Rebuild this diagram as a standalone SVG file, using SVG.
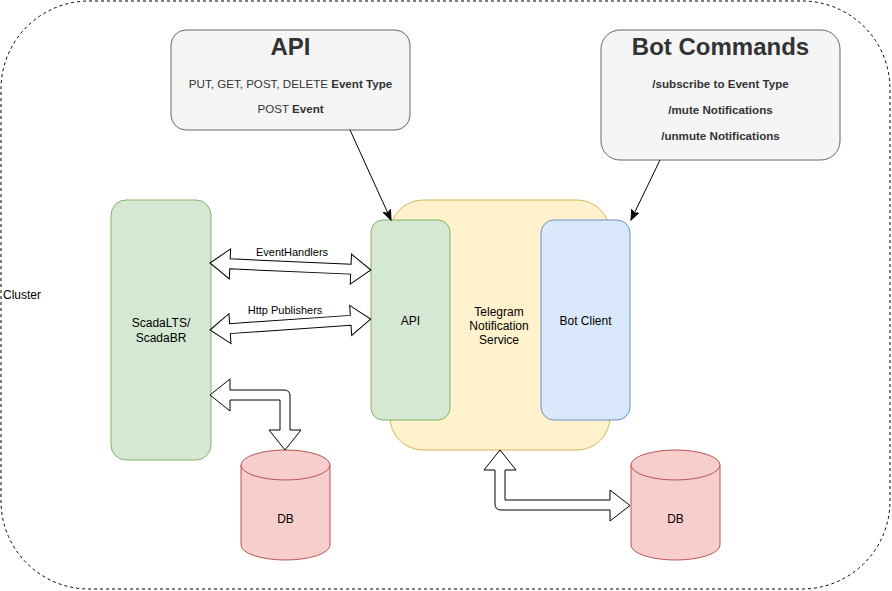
<svg xmlns="http://www.w3.org/2000/svg" width="892" height="591" viewBox="0 0 892 591">
<defs>
<style>
text{font-family:"Liberation Sans",Arial,Helvetica,sans-serif;font-size:12px;fill:#000;}
.c{text-anchor:middle;}
.g{fill:#333333;font-size:11.6px;}
.b{font-weight:bold;}
.t{font-size:24px;font-weight:bold;fill:#333333;}
.lbl{font-size:11px;}
.gray{fill:#f5f5f5;stroke:#666666;stroke-width:1;}
.green{fill:#d5e8d4;stroke:#82b366;stroke-width:1;}
.yellow{fill:#fff2cc;stroke:#d6b656;stroke-width:1;}
.blue{fill:#dae8fc;stroke:#6c8ebf;stroke-width:1;}
.red{fill:#f8cecc;stroke:#b85450;stroke-width:1;}
.flex{fill:#ffffff;stroke:#000000;stroke-width:1;stroke-linejoin:miter;}
.line{fill:none;stroke:#000000;stroke-width:1;}
</style>
<marker id="arr" markerUnits="userSpaceOnUse" markerWidth="12" markerHeight="10" refX="10" refY="4" orient="auto">
<path d="M0,0 L10,4 L0,8 L2.5,4 Z" fill="#000" stroke="#000" stroke-width="1"/>
</marker>
</defs>

<g id="cluster">
<rect x="1" y="1" width="889" height="588" rx="88" ry="88" fill="#ffffff" stroke="#000000" stroke-dasharray="3,3"/>
<text x="3" y="299">Cluster</text>
</g>

<g id="api-info">
<rect class="gray" x="171" y="30" width="239" height="100" rx="15" ry="15"/>
<text class="t c" x="290.5" y="55">API</text>
<text class="c g" x="290.5" y="88">PUT, GET, POST, DELETE <tspan class="b">Event Type</tspan></text>
<text class="c g" x="290.5" y="113">POST <tspan class="b">Event</tspan></text>
</g>

<g id="bot-commands">
<rect class="gray" x="601" y="30" width="239" height="130" rx="19" ry="19"/>
<text class="t c" x="720.5" y="55">Bot Commands</text>
<text class="c g b" x="720.5" y="88">/subscribe to Event Type</text>
<text class="c g b" x="720.5" y="114">/mute Notifications</text>
<text class="c g b" x="720.5" y="140">/unmute Notifications</text>
</g>

<g id="scada">
<rect class="green" x="111" y="200" width="100" height="260" rx="15" ry="15"/>
<text class="c" x="161" y="327">ScadaLTS/</text>
<text class="c" x="161" y="342">ScadaBR</text>
</g>

<g id="telegram-service">
<rect class="yellow" x="390" y="200" width="220" height="250" rx="33" ry="33"/>
<text class="c" x="499" y="316">Telegram</text>
<text class="c" x="499" y="330">Notification</text>
<text class="c" x="499" y="344">Service</text>
</g>

<g id="api">
<rect class="green" x="371" y="220" width="79" height="200" rx="12" ry="12"/>
<text class="c" x="410.5" y="325">API</text>
</g>

<g id="bot-client">
<rect class="blue" x="541" y="220" width="89" height="200" rx="13" ry="13"/>
<text class="c" x="585.5" y="325">Bot Client</text>
</g>

<g id="db-left">
<path class="red" d="M241,465 A44.5,15 0 0 1 330,465 L330,545 A44.5,15 0 0 1 241,545 Z"/>
<path class="red" d="M241,465 A44.5,15 0 0 0 330,465" fill="none"/>
<text class="c" x="285.5" y="523">DB</text>
</g>

<g id="db-right">
<path class="red" d="M631,465 A44.5,15 0 0 1 720,465 L720,545 A44.5,15 0 0 1 631,545 Z"/>
<path class="red" d="M631,465 A44.5,15 0 0 0 720,465" fill="none"/>
<text class="c" x="675.5" y="523">DB</text>
</g>

<g id="connectors">
<line class="line" x1="350" y1="130" x2="391" y2="220" marker-end="url(#arr)"/>
<line class="line" x1="660" y1="160" x2="631" y2="220" marker-end="url(#arr)"/>
<polygon class="flex" transform="translate(210,263) rotate(2.49)" points="0,0 20,-15 20,-5 141,-5 141,-15 161,0 141,15 141,5 20,5 20,15"/>
<text class="c lbl" x="292" y="256">EventHandlers</text>
<polygon class="flex" transform="translate(210,330) rotate(-3.91)" points="0,0 20,-15 20,-5 141,-5 141,-15 161,0 141,15 141,5 20,5 20,15"/>
<text class="c lbl" x="285" y="314">Http Publishers</text>
<path class="flex" d="M210,395 L230,379 L230,390 L284,390 Q290,390 290,396 L290,430 L301,430 L285,450 L269,430 L280,430 L280,400 L230,400 L230,411 Z"/>
<path class="flex" d="M500,450 L516,470 L505,470 L505,500 L610,500 L610,490 L630,505.5 L610,521 L610,510 L501,510 Q495,510 495,504 L495,470 L484,470 Z"/>
</g>
</svg>
